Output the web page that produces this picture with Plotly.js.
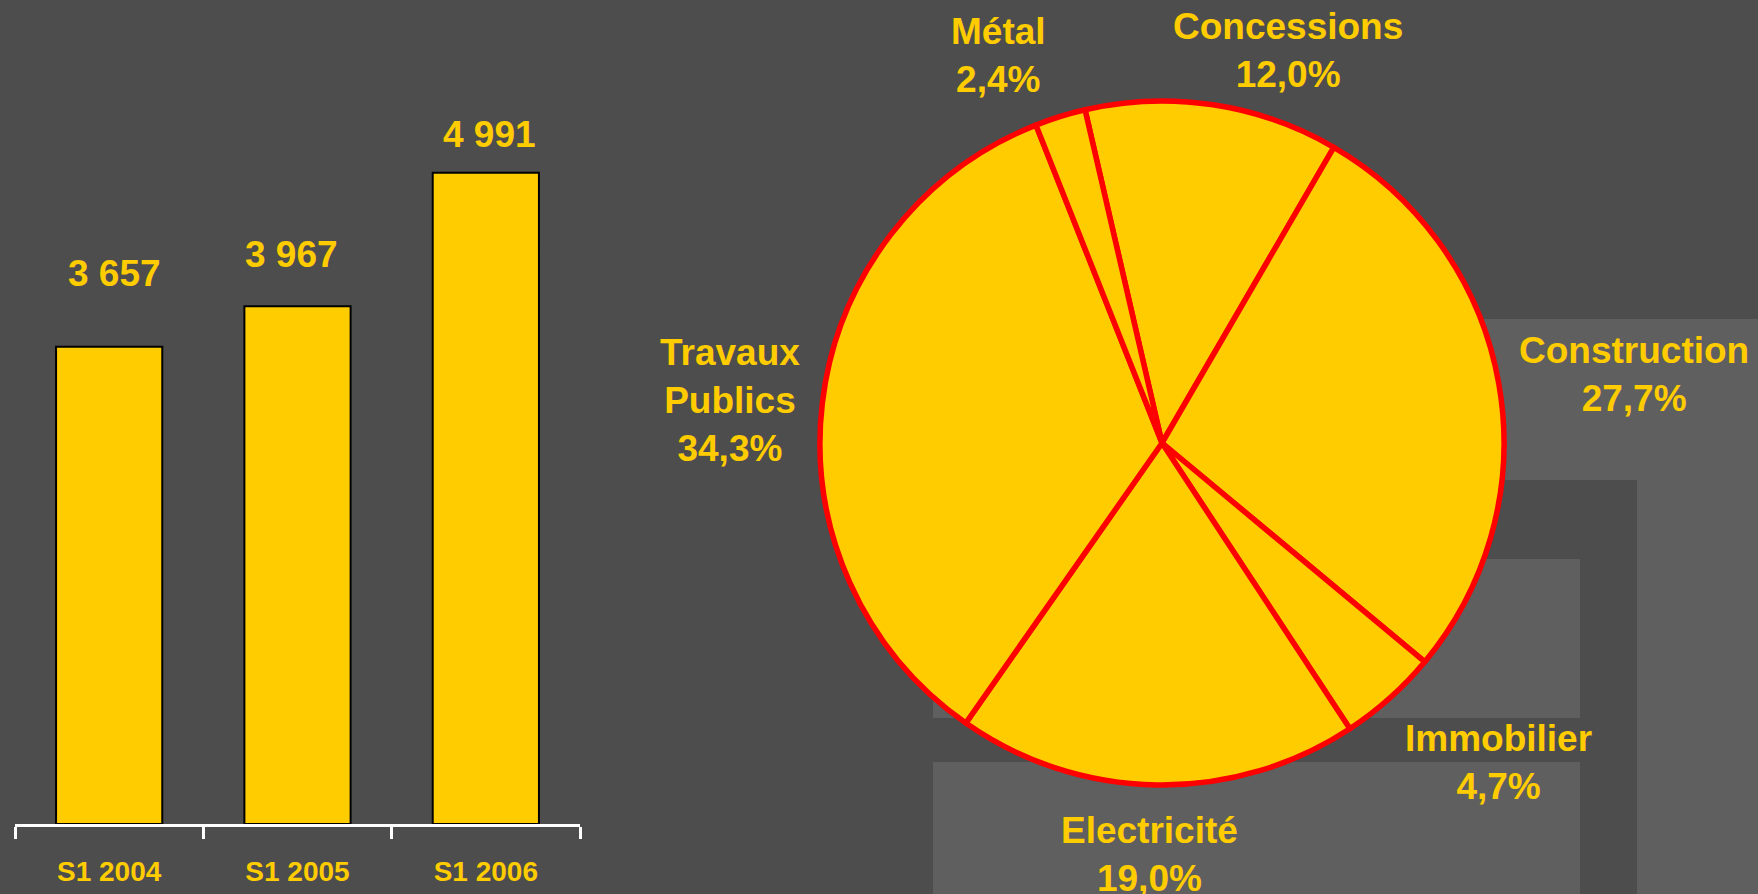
<!DOCTYPE html>
<html>
<head>
<meta charset="utf-8">
<script src="https://cdn.plot.ly/plotly-3.0.1.min.js"></script>
<style>
  html, body { margin: 0; padding: 0; background: #4D4D4D; }
  #chart { width: 1758px; height: 894px; }
</style>
</head>
<body>
<div id="chart"></div>
<script>
// ---- Data ----
const barCategories = ['S1 2004', 'S1 2005', 'S1 2006'];
const barValues = [3657, 3967, 4991];

const pieLabels = ['Concessions', 'Construction', 'Immobilier', 'Electricité', 'Travaux Publics', 'Métal'];
const pieValues = [12.0, 27.7, 4.7, 19.0, 34.3, 2.4];

// ---- Styles ----
const YELLOW = '#FFCC00';
const BG = '#4D4D4D';
const LIGHT = '#5F5F5F';
const W = 1758, H = 894;
const FONT = 'Liberation Sans, Arial, sans-serif';

function fmtThousands(v) {
  return String(v).replace(/\B(?=(\d{3})+(?!\d))/g, ' ');
}
function fmtPct(v) {
  return v.toFixed(1).replace('.', ',') + '%';
}
function px(x) { return x / W; }
function py(y) { return 1 - y / H; }

// label offsets above bar tops (pixels)
const barLabelShift = [73, 52, 38];
const barLabelXShift = [5, -6, 4];

// pie geometry (pixels)
const PIE_CX = 1162, PIE_CY = 443, PIE_R = 342;

// pie label centres (pixels)
const pieLabelPos = [
  [1288, 51], [1634, 374], [1498, 762], [1149, 854], [730, 400], [998, 55]
];

const traces = [
  {
    type: 'bar',
    x: barCategories,
    y: barValues,
    xaxis: 'x', yaxis: 'y',
    marker: { color: YELLOW, line: { color: '#000000', width: 2 } },
    hoverinfo: 'skip'
  },
  {
    type: 'pie',
    labels: pieLabels,
    values: pieValues,
    sort: false,
    direction: 'clockwise',
    rotation: -13,
    textinfo: 'none',
    hoverinfo: 'skip',
    showlegend: false,
    marker: { colors: pieLabels.map(() => YELLOW), line: { color: '#FF0000', width: 5.5 } },
    domain: { x: [px(PIE_CX - PIE_R), px(PIE_CX + PIE_R)], y: [py(PIE_CY + PIE_R), py(PIE_CY - PIE_R)] }
  }
];

const annotations = [];
barCategories.forEach((c, i) => {
  annotations.push({
    xref: 'x', yref: 'y', x: c, y: barValues[i],
    text: fmtThousands(barValues[i]),
    showarrow: false, yanchor: 'middle', xanchor: 'center',
    yshift: barLabelShift[i], xshift: barLabelXShift[i],
    font: { family: FONT, size: 37, color: YELLOW, weight: 'bold' }
  });
});
pieLabels.forEach((l, i) => {
  annotations.push({
    xref: 'paper', yref: 'paper',
    x: px(pieLabelPos[i][0]), y: py(pieLabelPos[i][1]),
    text: l.replace(' ', '<br>') + '<br>' + fmtPct(pieValues[i]),
    showarrow: false, xanchor: 'center', yanchor: 'middle', align: 'center',
    font: { family: FONT, size: 37, color: YELLOW, weight: 'bold' }
  });
});

const shapes = [
  { type: 'rect', xref: 'paper', yref: 'paper', layer: 'below',
    x0: px(1250), x1: px(1758), y0: py(894), y1: py(319),
    fillcolor: LIGHT, line: { width: 0 } },
  { type: 'rect', xref: 'paper', yref: 'paper', layer: 'below',
    x0: px(880), x1: px(1637), y0: py(894), y1: py(480),
    fillcolor: BG, line: { width: 0 } },
  { type: 'rect', xref: 'paper', yref: 'paper', layer: 'below',
    x0: px(933), x1: px(1580), y0: py(718), y1: py(559),
    fillcolor: LIGHT, line: { width: 0 } },
  { type: 'rect', xref: 'paper', yref: 'paper', layer: 'below',
    x0: px(933), x1: px(1580), y0: py(894), y1: py(762),
    fillcolor: LIGHT, line: { width: 0 } }
];

const Y_SCALE = 0.1305; // pixels per unit
const layout = {
  width: W, height: H,
  margin: { l: 0, r: 0, t: 0, b: 0, pad: 0 },
  paper_bgcolor: BG,
  plot_bgcolor: 'rgba(0,0,0,0)',
  showlegend: false,
  bargap: 0.436,
  xaxis: {
    domain: [px(15), px(580)],
    range: [-0.5, 2.5],
    type: 'category',
    showline: true, linecolor: '#FFFFFF', linewidth: 3,
    showgrid: false, zeroline: false,
    ticks: 'outside', tickson: 'boundaries', tickcolor: '#FFFFFF', tickwidth: 3, ticklen: 12,
    ticklabelstandoff: 20,
    tickfont: { family: FONT, size: 28, color: YELLOW, weight: 'bold' },
    fixedrange: true
  },
  yaxis: {
    domain: [py(824), py(824 - Y_SCALE * 5500)],
    range: [0, 5500],
    visible: false, showgrid: false, zeroline: false,
    fixedrange: true
  },
  annotations: annotations,
  shapes: shapes
};

Plotly.newPlot('chart', traces, layout, { staticPlot: true, displayModeBar: false });
</script>
</body>
</html>
